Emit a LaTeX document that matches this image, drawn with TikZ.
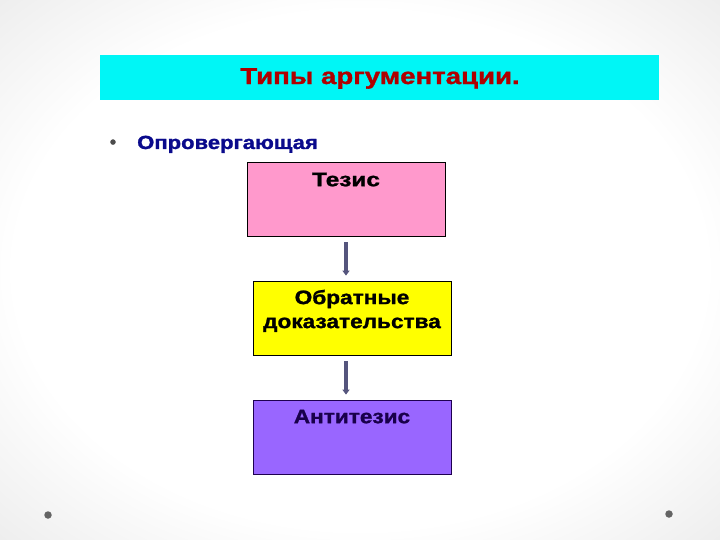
\documentclass[tikz,border=0pt]{standalone}
\usepackage{fontspec}
\usepackage{graphicx}
\setmainfont{Liberation Sans}[BoldFeatures={FakeBold=1.2}]
\usetikzlibrary{arrows.meta}
\definecolor{titlered}{RGB}{175,0,0}
\definecolor{navy}{RGB}{10,10,140}
\definecolor{barcyan}{RGB}{0,246,246}
\definecolor{pinkbox}{RGB}{255,153,204}
\definecolor{yelbox}{RGB}{255,255,0}
\definecolor{purpbox}{RGB}{153,102,255}
\definecolor{arrowgray}{RGB}{85,85,125}
\definecolor{dotgray}{RGB}{100,100,100}
\newcommand{\wide}[2][1.16]{\scalebox{#1}[1]{#2}}
\pgfdeclareradialshading{vign}{\pgfpoint{0bp}{0bp}}{color(0bp)=(white); color(24bp)=(white); color(46bp)=(black!13); color(62bp)=(black!25)}
\begin{document}
\begin{tikzpicture}[x=1pt,y=-1pt,
  box/.style={draw=black, line width=0.8pt, minimum width=198pt, minimum height=74pt, inner sep=0pt},
  boxtext/.style={anchor=north, font=\bfseries\fontsize{19.5}{24}\selectfont, align=center, inner sep=0pt},
  conn/.style={draw=arrowgray, line width=3.2pt, -{Triangle[length=5pt,width=7pt]}}
]
\useasboundingbox (0,0) rectangle (720,540);
\shade[shading=vign] (0,0) rectangle (720,540);
% title bar
\node[fill=barcyan, minimum width=559pt, minimum height=45pt, inner sep=0pt] (bar) at (379.5,77.5) {};
\node[font=\bfseries\fontsize{23}{25}\selectfont, text=titlered] (title) at (380,78.5) {\wide[1.2]{Типы аргументации.}};
% bullet line
\node[font=\bfseries\fontsize{18}{22}\selectfont, text=black!70, anchor=base] (bul) at (113,148) {•};
\node[font=\bfseries\fontsize{19}{22}\selectfont, text=navy, anchor=base west, inner sep=0pt] (sub) at (137,149) {\wide{Опровергающая}};
% boxes
\node[box, fill=pinkbox] (t) at (346,199) {};
\node[box, fill=yelbox] (y) at (352,318) {};
\node[box, fill=purpbox, draw={rgb,255:red,30;green,0;blue,80}] (a) at (352,437) {};
\node[boxtext] (tt) at ([yshift=-11pt]t.north) {\wide[1.25]{Тезис}};
\node[boxtext] (yt) at ([yshift=-9pt]y.north) {\wide{Обратные}\\\wide{доказательства}};
\node[boxtext, text={rgb,255:red,25;green,0;blue,75}] (at) at ([yshift=-10pt]a.north) {\wide{Антитезис}};
% connectors
\draw[conn, shorten <=6pt, shorten >=5pt] (t.south) -- (t.south |- y.north);
\draw[conn, shorten <=6pt, shorten >=5pt] (t.south |- y.south) -- (t.south |- a.north);
% corner dots
\node[circle, fill=dotgray, minimum size=7.5pt, inner sep=0pt] (d1) at (48,515) {};
\node[circle, fill=dotgray, minimum size=7.5pt, inner sep=0pt] (d2) at (669,514) {};
\end{tikzpicture}
\end{document}
